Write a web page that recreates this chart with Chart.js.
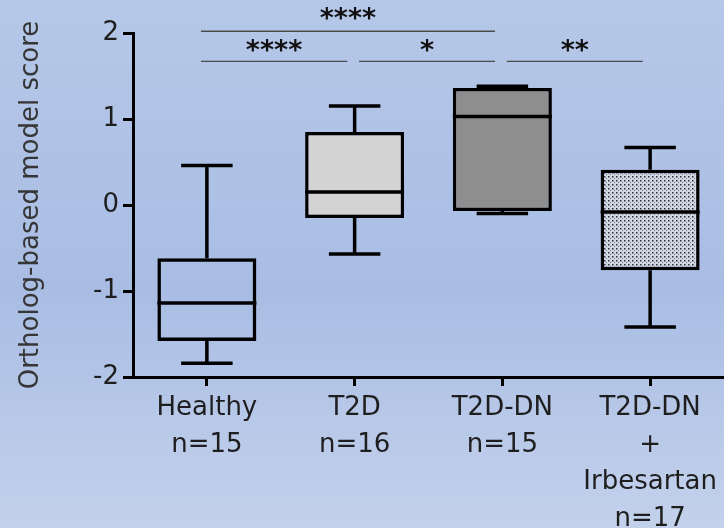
<!DOCTYPE html>
<html>
<head>
<meta charset="utf-8">
<script src="https://cdn.jsdelivr.net/npm/chart.js@4"></script>
<style>
  body { margin: 0; background: linear-gradient(to bottom, #b6c8e8 0%, #a9bde4 55%, #c3d1eb 100%); }
  #wrap { width: 724px; height: 528px; position: relative; }
</style>
</head>
<body>
<div id="wrap"><canvas id="box-chart"></canvas></div>
<script>
// groups (multi-line tick labels)
const groups = [
  ["Healthy", "n=15"],
  ["T2D", "n=16"],
  ["T2D-DN", "n=15"],
  ["T2D-DN", "+", "Irbesartan", "n=17"]
];
const whiskerLow  = [-1.84, -0.57, -0.10, -1.42];
const q1          = [-1.58, -0.15, -0.07, -0.76];
const median      = [-1.14,  0.15,  1.03, -0.08];
const q3          = [-0.62,  0.85,  1.36,  0.41];
const whiskerHigh = [ 0.46,  1.15,  1.38,  0.67];
const yTicks = [-2, -1, 0, 1, 2];

// significance brackets: group a to group b, on bracket level (data units)
const bracketLevels = [2.02, 1.67];
const comparisons = [
  { a: 0, b: 2, level: 0, label: "****" },
  { a: 0, b: 1, level: 1, label: "****" },
  { a: 1, b: 2, level: 1, label: "*" },
  { a: 2, b: 3, level: 1, label: "**" }
];

const FONT = "'DejaVu Sans', Arial, sans-serif";

function dotPattern() {
  const c = document.createElement("canvas");
  c.width = 4; c.height = 4;
  const g = c.getContext("2d");
  g.fillStyle = "#d2d6e2";
  g.fillRect(0, 0, 4, 4);
  g.fillStyle = "#2a2f3a";
  g.fillRect(0, 0, 1.5, 1.5);
  g.fillStyle = "#7d8290";
  g.fillRect(2, 2, 1, 1);
  return g.createPattern(c, "repeat");
}

const boxFill = ["rgba(0,0,0,0)", "#d3d3d3", "#8e8e8e", dotPattern()];

const boxExtras = {
  id: "boxExtras",
  afterDatasetsDraw(chart) {
    const ctx = chart.ctx;
    const x = chart.scales.x, y = chart.scales.y;
    const bars = chart.getDatasetMeta(0).data;
    ctx.save();
    ctx.strokeStyle = "#000";
    ctx.lineWidth = 3.5;
    ctx.lineCap = "butt";
    bars.forEach((bar, i) => {
      const cx = x.getPixelForValue(i);
      const half = bar.width / 2;
      const cap = bar.width * 0.26;
      ctx.beginPath();
      // median
      ctx.moveTo(cx - half, y.getPixelForValue(median[i]));
      ctx.lineTo(cx + half, y.getPixelForValue(median[i]));
      // stems
      ctx.moveTo(cx, y.getPixelForValue(q3[i]));
      ctx.lineTo(cx, y.getPixelForValue(whiskerHigh[i]));
      ctx.moveTo(cx, y.getPixelForValue(q1[i]));
      ctx.lineTo(cx, y.getPixelForValue(whiskerLow[i]));
      // caps
      ctx.moveTo(cx - cap, y.getPixelForValue(whiskerHigh[i]));
      ctx.lineTo(cx + cap, y.getPixelForValue(whiskerHigh[i]));
      ctx.moveTo(cx - cap, y.getPixelForValue(whiskerLow[i]));
      ctx.lineTo(cx + cap, y.getPixelForValue(whiskerLow[i]));
      ctx.stroke();
    });

    // significance brackets
    ctx.lineWidth = 1.4;
    ctx.strokeStyle = "#4a4a4a";
    ctx.fillStyle = "#111";
    ctx.font = "bold 27px " + FONT;
    ctx.textAlign = "center";
    ctx.textBaseline = "alphabetic";
    comparisons.forEach(c => {
      const x0 = x.getPixelForValue(c.a + (c.a === 0 ? -0.04 : 0.03));
      const x1 = x.getPixelForValue(c.b - 0.05);
      const yy = y.getPixelForValue(bracketLevels[c.level]);
      ctx.beginPath();
      ctx.moveTo(x0, yy);
      ctx.lineTo(x1, yy);
      ctx.stroke();
      ctx.fillText(c.label, (x0 + x1) / 2, yy - (c.level === 0 ? 4 : 2));
    });
    ctx.restore();
  }
};

new Chart(document.getElementById("box-chart"), {
  type: "bar",
  data: {
    labels: groups,
    datasets: [{
      data: q1.map((v, i) => [v, q3[i]]),
      backgroundColor: boxFill,
      borderColor: "#000",
      borderWidth: 3.5,
      borderSkipped: false,
      categoryPercentage: 1,
      barPercentage: 0.67
    }]
  },
  options: {
    responsive: true,
    maintainAspectRatio: false,
    animation: false,
    layout: { padding: { top: 33, right: 0, left: 14, bottom: 0 } },
    plugins: { legend: { display: false }, tooltip: { enabled: false } },
    scales: {
      x: {
        afterFit: s => { s.height = 151; },
        border: { color: "#000", width: 3 },
        grid: { drawOnChartArea: false, offset: false, color: "#000", lineWidth: 3, tickLength: 9 },
        ticks: {
          color: "#1e1e1e",
          padding: 4,
          maxRotation: 0,
          font: { family: FONT, size: 26, lineHeight: 1.42 }
        }
      },
      y: {
        min: -2,
        max: 2,
        afterFit: s => { s.width = 119; },
        afterBuildTicks: s => { s.ticks = yTicks.map(v => ({ value: v })); },
        border: { color: "#000", width: 3 },
        grid: { drawOnChartArea: false, color: "#000", lineWidth: 3, tickLength: 10 },
        ticks: {
          color: "#1e1e1e",
          padding: 4,
          font: { family: FONT, size: 26 }
        },
        title: {
          display: true,
          text: "Ortholog-based model score",
          color: "#363636",
          padding: { top: 2, bottom: 4 },
          font: { family: FONT, size: 26 }
        }
      }
    }
  },
  plugins: [boxExtras]
});
</script>
</body>
</html>
